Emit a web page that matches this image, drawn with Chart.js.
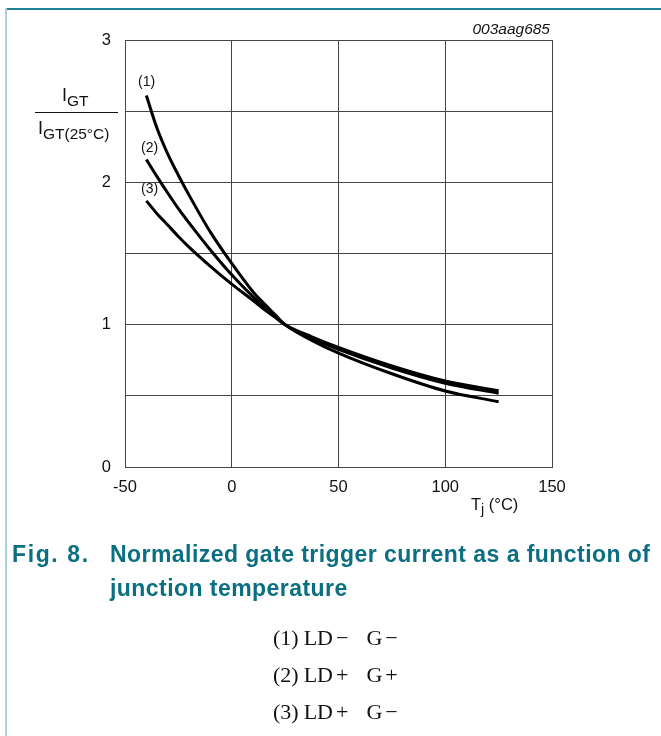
<!DOCTYPE html>
<html><head><meta charset="utf-8">
<script src="https://cdn.jsdelivr.net/npm/chart.js@4"></script>
<style>
html,body{margin:0;padding:0;background:#fff;width:661px;height:736px;overflow:hidden;font-family:"Liberation Sans",Arial,sans-serif;}
#c{position:absolute;left:0;top:0;}
.t{position:absolute;white-space:nowrap;color:#111;}
.top{position:absolute;left:5px;top:8px;width:656px;height:2px;background:#1f8196;}
.left{position:absolute;left:5px;top:8px;width:2px;height:728px;background:#a9d2de;}
.cap{position:absolute;color:#0b6f82;font-weight:bold;font-size:23px;letter-spacing:0.45px;white-space:nowrap;}
.leg{position:absolute;left:273px;font-family:"Liberation Serif","Times New Roman",serif;font-size:22px;color:#111;white-space:nowrap;}
.leg span{display:inline-block;}
sub{font-size:86%;vertical-align:-0.3em;}
</style></head><body>
<div class="top"></div><div class="left"></div>
<canvas id="c" width="661" height="736"></canvas>
<div class="t" style="right:111px;top:20px;font-style:italic;font-size:15.5px;">003aag685</div>
<div class="t" style="left:62px;top:85px;font-size:18px;">I<sub>GT</sub></div>
<div style="position:absolute;left:35px;top:112px;width:83px;height:1px;background:#111;"></div>
<div class="t" style="left:38px;top:118px;font-size:18px;">I<sub>GT(25°C)</sub></div>
<div class="t" style="left:138px;top:73px;font-size:14px;">(1)</div>
<div class="t" style="left:141px;top:139px;font-size:14px;">(2)</div>
<div class="t" style="left:141px;top:180px;font-size:14px;">(3)</div>
<div class="t" style="left:471px;top:495px;font-size:16.5px;">T<sub>j</sub> (°C)</div>
<div class="cap" style="left:12px;top:541px;letter-spacing:1.6px;">Fig. 8.</div>
<div class="cap" style="left:110px;top:541px;">Normalized gate trigger current as a function of</div>
<div class="cap" style="left:110px;top:575px;">junction temperature</div>
<div class="leg" style="top:625px;">(1)<span style="width:5px"></span>LD<span style="width:3px"></span>−<span style="width:18px"></span>G<span style="width:3px"></span>−</div>
<div class="leg" style="top:662px;">(2)<span style="width:5px"></span>LD<span style="width:3px"></span>+<span style="width:18px"></span>G<span style="width:3px"></span>+</div>
<div class="leg" style="top:699px;">(3)<span style="width:5px"></span>LD<span style="width:3px"></span>+<span style="width:18px"></span>G<span style="width:3px"></span>−</div>
<script>
const temps = [-40,-35,-30,-25,-20,-10,0,10,15,20,25,37.5,50,75,100,125];
const curve1 = [2.61,2.38,2.20,2.05,1.91,1.65,1.43,1.23,1.15,1.075,1.0,0.89,0.80,0.655,0.534,0.459];
const curve2 = [2.16,2.04,1.925,1.815,1.715,1.525,1.35,1.195,1.125,1.06,1.0,0.905,0.826,0.695,0.588,0.518];
const curve3 = [1.87,1.78,1.70,1.62,1.545,1.41,1.285,1.17,1.11,1.055,1.0,0.915,0.84,0.71,0.604,0.536];
const xTicks = [-50,0,50,100,150];
const yLabels = [0,1,2,3];

function ds(vals){
  return {data: temps.map((t,i)=>({x:t,y:vals[i]})), borderColor:'#000', borderWidth:3,
    pointRadius:0, fill:false, cubicInterpolationMode:'monotone'};
}
const tickFont = {family:'"Liberation Sans", Arial, sans-serif', size:16.5};
new Chart(document.getElementById('c'), {
  type:'line',
  data:{datasets:[ds(curve1),ds(curve2),ds(curve3)]},
  options:{
    responsive:false, animation:false,
    layout:{padding:{left:0,top:40,right:109,bottom:209}},
    plugins:{legend:{display:false},tooltip:{enabled:false}},
    scales:{
      x:{type:'linear',min:xTicks[0],max:xTicks[xTicks.length-1],
        afterBuildTicks:s=>{s.ticks=xTicks.map(v=>({value:v}));},
        afterFit:s=>{s.height=60;},
        ticks:{font:tickFont,color:'#111',padding:11,maxRotation:0,autoSkip:false},
        grid:{color:'#444',lineWidth:1,drawTicks:false},
        border:{color:'#444',width:1}},
      y:{type:'linear',min:0,max:3,
        afterBuildTicks:s=>{s.ticks=[0,0.5,1,1.5,2,2.5,3].map(v=>({value:v}));},
        afterFit:s=>{s.width=125;},
        ticks:{font:tickFont,color:'#111',padding:14,autoSkip:false,
          callback:v=>yLabels.includes(v)?String(v):''},
        grid:{color:'#444',lineWidth:1,drawTicks:false},
        border:{color:'#444',width:1}}
    }
  }
});
</script>
</body></html>
